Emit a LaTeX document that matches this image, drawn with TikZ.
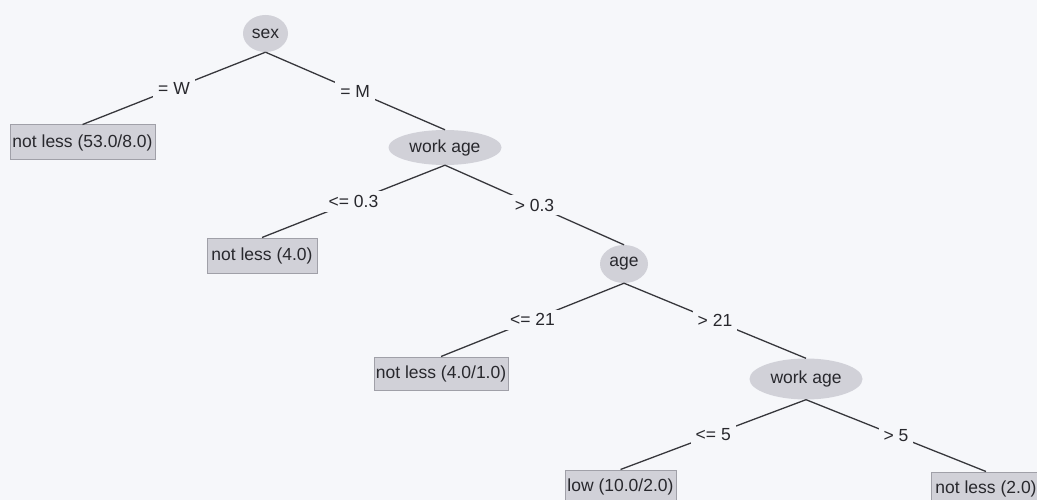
\documentclass[tikz,border=0pt]{standalone}
\usepackage{fontspec}
\setmainfont{Liberation Sans}
\usetikzlibrary{shapes.geometric}
\definecolor{bg}{RGB}{246,247,250}
\definecolor{nodefill}{RGB}{209,209,216}
\definecolor{leafborder}{RGB}{160,160,168}
\definecolor{linecol}{RGB}{55,55,60}
\definecolor{txt}{RGB}{40,40,45}
\tikzset{
  base/.style={font=\fontsize{17.5}{20}\selectfont, text=txt, inner sep=0pt},
  inner/.style={base, ellipse, fill=nodefill},
  leaf/.style={base, rectangle, fill=nodefill, draw=leafborder, line width=1pt},
  edge/.style={draw=linecol, line width=1.3pt},
  lbl/.style={base, fill=bg, inner xsep=5pt, inner ysep=4pt, midway}
}
\begin{document}
\begin{tikzpicture}[x=1pt,y=-1pt]
\fill[bg] (0,0) rectangle (1037,500);
\useasboundingbox (0,0) rectangle (1037,500);

\node[inner, minimum width=45pt, minimum height=37pt] (sex) at (265.5,33.5) {sex};
\node[inner, minimum width=113pt, minimum height=35pt] (wa1) at (445,147.5) {work age};
\node[inner, minimum width=48pt, minimum height=38pt] (age) at (624,264) {age};
\node[inner, minimum width=113pt, minimum height=41pt] (wa2) at (806,379) {work age};

\node[leaf, minimum width=145pt, minimum height=35pt] (l1) at (82.5,142.5) {not less (53.0/8.0)};
\node[leaf, minimum width=110pt, minimum height=35pt] (l2) at (262,255.5) {not less (4.0)};
\node[leaf, minimum width=134pt, minimum height=33pt] (l3) at (441,373.5) {not less (4.0/1.0)};
\node[leaf, minimum width=111pt, minimum height=34pt] (l4) at (620.5,487) {low (10.0/2.0)};
\node[leaf, minimum width=110pt, minimum height=34pt] (l5) at (986,489) {not less (2.0)};

\draw[edge] (sex.south) -- node[lbl] {= W} (l1.north);
\draw[edge] (sex.south) -- node[lbl] {= M} (wa1.north);
\draw[edge] (wa1.south) -- node[lbl] {<= 0.3} (l2.north);
\draw[edge] (wa1.south) -- node[lbl] {> 0.3} (age.north);
\draw[edge] (age.south) -- node[lbl] {<= 21} (l3.north);
\draw[edge] (age.south) -- node[lbl] {> 21} (wa2.north);
\draw[edge] (wa2.south) -- node[lbl] {<= 5} (l4.north);
\draw[edge] (wa2.south) -- node[lbl] {> 5} (l5.north);
\end{tikzpicture}
\end{document}
